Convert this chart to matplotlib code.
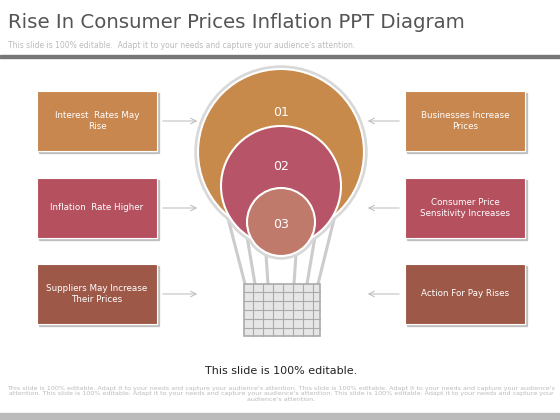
import matplotlib
matplotlib.use("Agg")
import matplotlib.pyplot as plt
from matplotlib.patches import Rectangle, Circle

left_labels = ["Interest  Rates May\nRise", "Inflation  Rate Higher", "Suppliers May Increase\nTheir Prices"]
right_labels = ["Businesses Increase\nPrices", "Consumer Price\nSensitivity Increases", "Action For Pay Rises"]
box_colors = ["#c8874f", "#b5505f", "#9e5848"]
circle_labels = ["01", "02", "03"]

fig = plt.figure(figsize=(5.6, 4.2), dpi=100)
ax = fig.add_axes([0, 0, 1, 1])
ax.set_xlim(0, 560); ax.set_ylim(420, 0); ax.axis("off")
fig.patch.set_facecolor("white")

ax.text(8, 22, "Rise In Consumer Prices Inflation PPT Diagram", fontsize=14.2, color="#555555", va="center")
ax.text(8, 45, "This slide is 100% editable.  Adapt it to your needs and capture your audience's attention.",
        fontsize=5.5, color="#bbbbbb", va="center")
ax.add_patch(Rectangle((0, 55), 560, 3, color="#777777"))
ax.add_patch(Rectangle((0, 413), 560, 7, color="#bbbbbb"))

ys = [91, 178, 264]
for i, y in enumerate(ys):
    for x, lab in [(37, left_labels[i]), (405, right_labels[i])]:
        ax.add_patch(Rectangle((x + 2, y + 2), 120, 60, color="#999999", alpha=0.5))
        ax.add_patch(Rectangle((x, y), 120, 60, facecolor=box_colors[i], edgecolor="#ffffff", lw=0.8))
        ax.text(x + 60, y + 30, lab, ha="center", va="center", color="white", fontsize=6.3)
    cy = y + 30
    ax.annotate("", xy=(200, cy), xytext=(160, cy), arrowprops=dict(arrowstyle="->", color="#bbbbbb", lw=0.7))
    ax.annotate("", xy=(365, cy), xytext=(402, cy), arrowprops=dict(arrowstyle="->", color="#bbbbbb", lw=0.7))

for x0, x1 in [(222, 245), (240, 255), (262, 268), (300, 294), (322, 307), (340, 318)]:
    ax.plot([x0, x1], [195, 284], color="#cccccc", lw=2.2, zorder=1)
ax.add_patch(Rectangle((244, 284), 76, 52, facecolor="#e6e6e6", edgecolor="#aaaaaa", lw=1.2, zorder=2))
for gx in range(253, 320, 10):
    ax.plot([gx, gx], [284, 336], color="#aaaaaa", lw=0.8, zorder=3)
for gy in range(292, 336, 9):
    ax.plot([244, 320], [gy, gy], color="#aaaaaa", lw=0.8, zorder=3)

circles = [((281, 152), 83, "#c88a4a"), ((281, 186), 60, "#b85468"), ((281, 222), 34, "#c07a6c")]
for (c, r, col) in circles:
    ax.add_patch(Circle(c, r + 3, color="#d8d8d8", zorder=4))
    ax.add_patch(Circle(c, r, facecolor=col, edgecolor="white", lw=1.5, zorder=5))
for lab, ly in zip(circle_labels, [112, 167, 224]):
    ax.text(281, ly, lab, ha="center", va="center", color="white", fontsize=9, zorder=6)

ax.text(281, 371, "This slide is 100% editable.", ha="center", va="center", fontsize=8, color="#222222")
foot = ("This slide is 100% editable. Adapt it to your needs and capture your audience's attention. This slide is 100% editable. Adapt it to your needs and capture your audience's\n"
        "attention. This slide is 100% editable. Adapt it to your needs and capture your audience's attention. This slide is 100% editable. Adapt it to your needs and capture your\n"
        "audience's attention.")
ax.text(281, 394, foot, ha="center", va="center", fontsize=4.6, color="#bbbbbb", linespacing=1.2)

fig.savefig("out.png", dpi=100)
